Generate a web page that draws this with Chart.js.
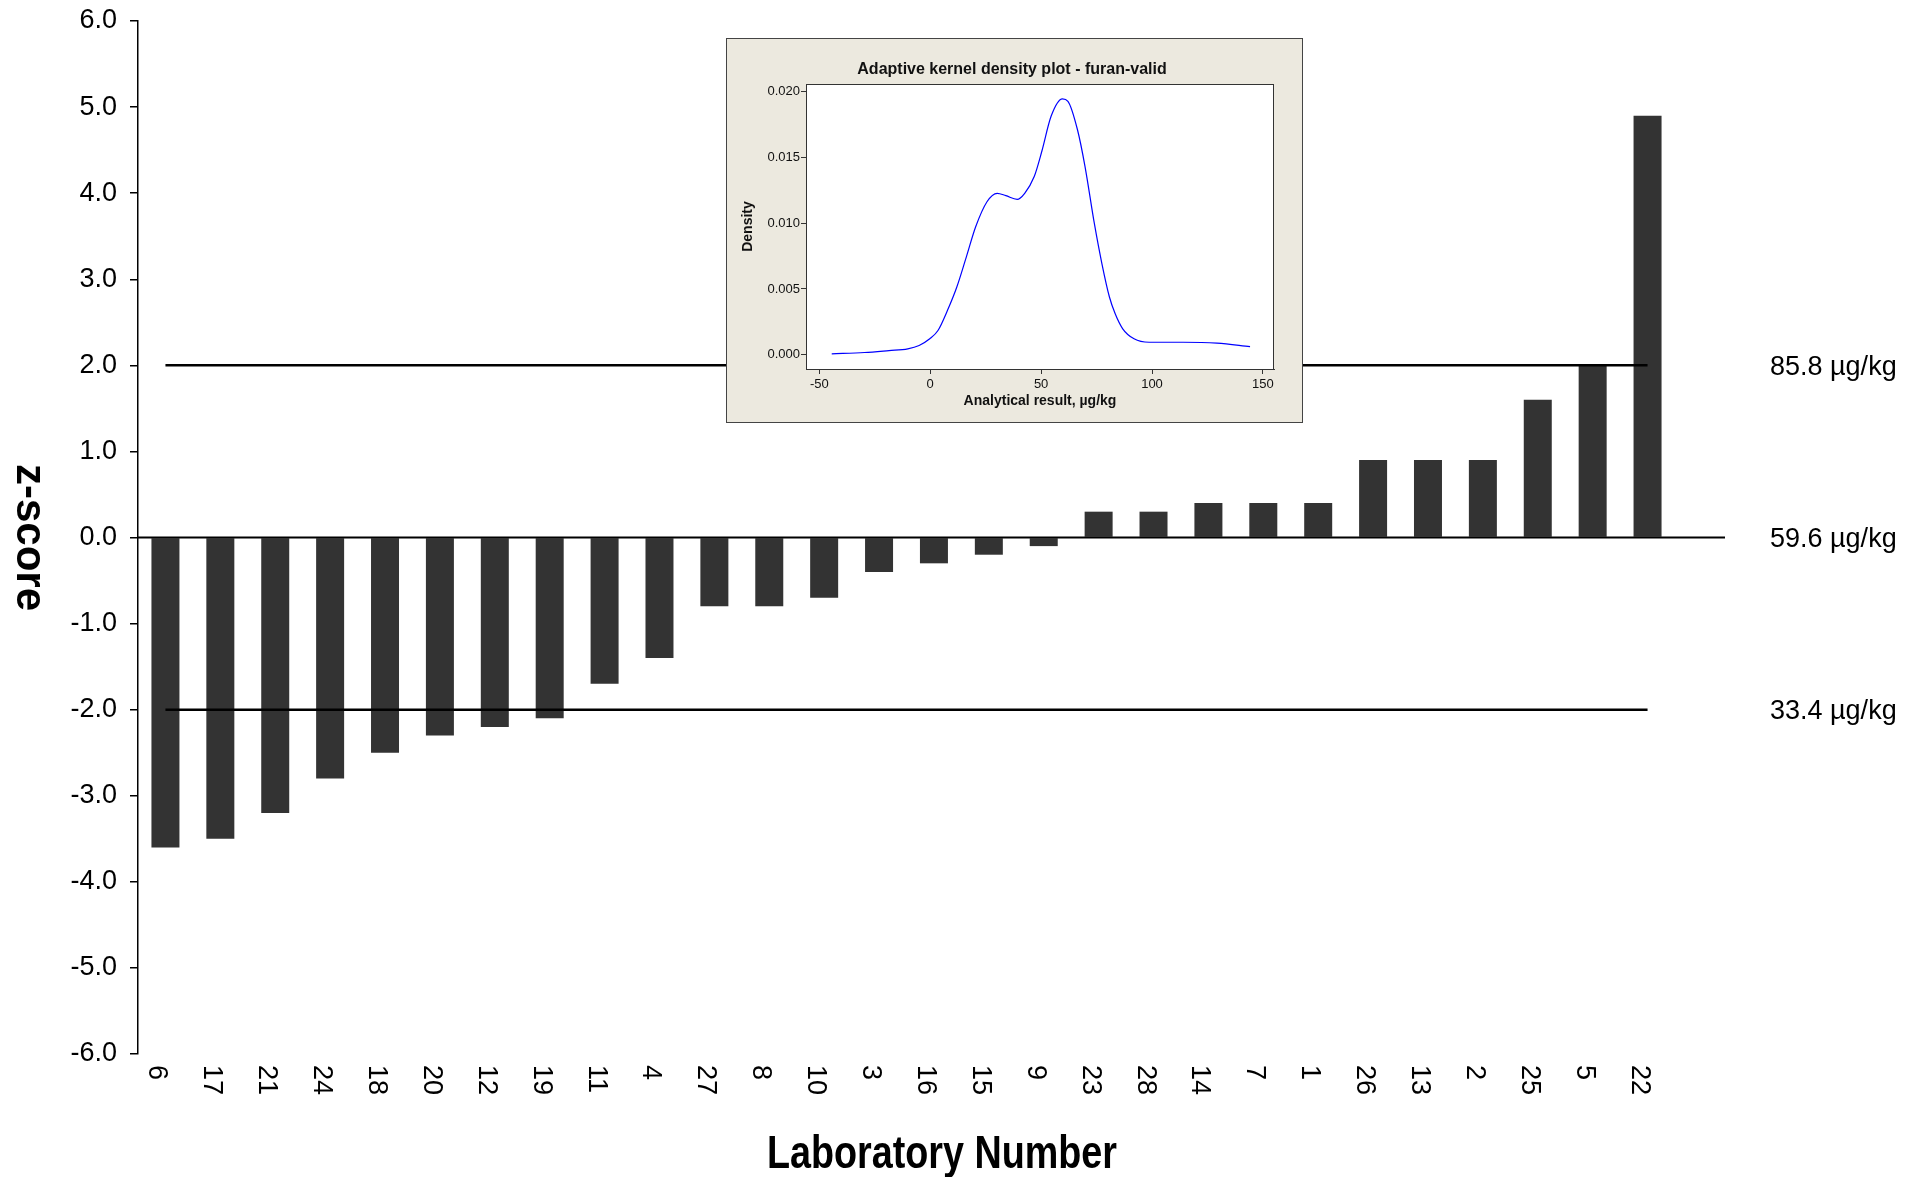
<!DOCTYPE html>
<html><head><meta charset="utf-8">
<script src="https://cdn.jsdelivr.net/npm/chart.js@4.4.1/dist/chart.umd.min.js"></script>
<style>
html,body{margin:0;padding:0;background:#fff;}
#wrap{position:relative;width:1917px;height:1177px;overflow:hidden;}
#main{position:absolute;left:0;top:0;}
#inset{position:absolute;left:726px;top:38px;}
</style></head><body>
<div id="wrap"><canvas id="main" width="1917" height="1177"></canvas><canvas id="inset" width="577" height="385"></canvas></div>
<script>
// ---- main chart data ----
const labs = ['6','17','21','24','18','20','12','19','11','4','27','8','10','3','16','15','9','23','28','14','7','1','26','13','2','25','5','22'];
const zScores = [-3.6,-3.5,-3.2,-2.8,-2.5,-2.3,-2.2,-2.1,-1.7,-1.4,-0.8,-0.8,-0.7,-0.4,-0.3,-0.2,-0.1,0.3,0.3,0.4,0.4,0.4,0.9,0.9,0.9,1.6,2.0,4.9];
const upperLimit = 2;
const lowerLimit = -2;
const limitLevels = [2, 0, -2];
const limitLabels = ['85.8 µg/kg', '59.6 µg/kg', '33.4 µg/kg'];
const yTitle = 'z-score';
const xTitle = 'Laboratory Number';

// ---- inset data ----
const insetTitle = 'Adaptive kernel density plot - furan-valid';
const insetXTitle = 'Analytical result, µg/kg';
const insetYTitle = 'Density';
const insetXTicks = [-50, 0, 50, 100, 150];
const insetYTicks = [0, 0.005, 0.010, 0.015, 0.020];
const densX = [-44.4,-29.6,-18.6,-10.1,-5.0,-0.2,3.5,7.8,12.0,16.3,20.5,25.6,30.2,34.1,39.2,42.6,46.9,50.3,54.5,59.6,62.1,66.4,69.8,74.0,77.4,80.8,83.4,86.8,91.9,98.7,114.0,129.3,144.2];
const densY = [0.00008,0.00018,0.00033,0.00046,0.00071,0.00122,0.00185,0.00338,0.00515,0.00744,0.00972,0.01162,0.01226,0.01208,0.0118,0.01226,0.01353,0.01543,0.0181,0.01942,0.01924,0.01708,0.01429,0.00997,0.00693,0.00439,0.00312,0.00198,0.00122,0.00096,0.00096,0.00089,0.00063];

const FONT = '"Liberation Sans", Arial, Helvetica, sans-serif';
Chart.defaults.font.family = FONT;

const mainDecor = {
  id: 'mainDecor',
  afterDatasetsDraw(chart) {
    const {ctx, chartArea, scales: {y}} = chart;
    const y0 = y.getPixelForValue(0);
    ctx.save();
    ctx.strokeStyle = '#000';
    ctx.lineWidth = 2;
    ctx.beginPath();
    ctx.moveTo(chartArea.left, y0);
    ctx.lineTo(chartArea.right + 50, y0);
    ctx.stroke();
    ctx.restore();
  },
  afterDraw(chart) {
    const {ctx, chartArea, scales: {x, y}} = chart;
    ctx.save();
    ctx.fillStyle = '#000';
    // x tick labels, rotated clockwise
    ctx.font = '27px ' + FONT;
    ctx.textAlign = 'left';
    ctx.textBaseline = 'alphabetic';
    labs.forEach((lab, i) => {
      const px = x.getPixelForTick(i);
      ctx.save();
      ctx.translate(px - 16, chartArea.bottom + 11);
      ctx.rotate(Math.PI / 2);
      ctx.fillText(lab, 0, 0);
      ctx.restore();
    });
    // y title, rotated clockwise
    ctx.save();
    ctx.font = 'bold 42px ' + FONT;
    ctx.textAlign = 'center';
    ctx.translate(17, (chartArea.top + chartArea.bottom) / 2);
    ctx.rotate(Math.PI / 2);
    ctx.fillText(yTitle, 0, 0);
    ctx.restore();
    // x title (condensed)
    ctx.save();
    ctx.font = 'bold 46px ' + FONT;
    ctx.textAlign = 'center';
    ctx.translate(942, 1168);
    ctx.scale(0.82, 1);
    ctx.fillText(xTitle, 0, 0);
    ctx.restore();
    // right-hand labels
    ctx.font = '27px ' + FONT;
    ctx.textAlign = 'left';
    ctx.textBaseline = 'middle';
    limitLevels.forEach((lv, i) => {
      ctx.fillText(limitLabels[i], chartArea.right + 95, y.getPixelForValue(lv) + 2);
    });
    ctx.restore();
  }
};

new Chart(document.getElementById('main'), {
  type: 'bar',
  data: {
    labels: labs,
    datasets: [
      {type: 'line', data: [{x: labs[0], y: upperLimit}, {x: labs[labs.length - 1], y: upperLimit}],
       borderColor: '#000', borderWidth: 2.5, pointRadius: 0, fill: false, order: 1},
      {type: 'line', data: [{x: labs[0], y: lowerLimit}, {x: labs[labs.length - 1], y: lowerLimit}],
       borderColor: '#000', borderWidth: 2.5, pointRadius: 0, fill: false, order: 1},
      {type: 'bar', data: zScores, backgroundColor: '#333333', borderWidth: 0,
       barPercentage: 0.51, categoryPercentage: 1, order: 2}
    ]
  },
  options: {
    responsive: false, animation: false, devicePixelRatio: 1,
    layout: {padding: {top: 21, right: 242, bottom: 0, left: 0}},
    plugins: {legend: {display: false}, tooltip: {enabled: false}},
    scales: {
      x: {
        type: 'category',
        grid: {display: false}, border: {display: false},
        ticks: {display: false},
        afterFit: s => { s.height = 123; }
      },
      y: {
        min: -6, max: 6,
        ticks: {stepSize: 1, callback: v => Number(v).toFixed(1), color: '#000',
                font: {size: 27, lineHeight: 0.5}, padding: 13},
        grid: {drawOnChartArea: false, tickLength: 8, color: '#000', lineWidth: 1.5},
        border: {color: '#000', width: 1.5},
        afterFit: s => { s.width = 138; }
      }
    }
  },
  plugins: [mainDecor]
});

const insetDecor = {
  id: 'insetDecor',
  beforeDraw(chart) {
    const {ctx, chartArea, width, height} = chart;
    ctx.save();
    ctx.fillStyle = '#ECE9DF';
    ctx.fillRect(0, 0, width, height);
    ctx.strokeStyle = '#444';
    ctx.lineWidth = 1;
    ctx.strokeRect(0.5, 0.5, width - 1, height - 1);
    ctx.fillStyle = '#fff';
    ctx.fillRect(chartArea.left, chartArea.top, chartArea.right - chartArea.left, chartArea.bottom - chartArea.top);
    ctx.restore();
  },
  afterDraw(chart) {
    const {ctx, chartArea} = chart;
    ctx.save();
    ctx.strokeStyle = '#333';
    ctx.lineWidth = 1;
    ctx.strokeRect(chartArea.left + 0.5, chartArea.top + 0.5, chartArea.right - chartArea.left - 1, chartArea.bottom - chartArea.top);
    ctx.fillStyle = '#111';
    ctx.font = 'bold 16px ' + FONT;
    ctx.textAlign = 'center';
    ctx.textBaseline = 'alphabetic';
    ctx.fillText(insetTitle, 286, 36);
    ctx.restore();
  }
};

new Chart(document.getElementById('inset'), {
  type: 'line',
  data: {datasets: [{
    data: densX.map((v, i) => ({x: v, y: densY[i]})),
    borderColor: '#0000ff', borderWidth: 1.2, pointRadius: 0,
    cubicInterpolationMode: 'monotone', fill: false
  }]},
  options: {
    responsive: false, animation: false, devicePixelRatio: 1,
    layout: {padding: {top: 46, right: 29, left: 0, bottom: 0}},
    plugins: {legend: {display: false}, tooltip: {enabled: false}},
    scales: {
      x: {
        type: 'linear', min: -56, max: 155,
        afterBuildTicks: s => { s.ticks = insetXTicks.map(v => ({value: v})); },
        afterFit: s => { s.height = 54; },
        ticks: {font: {size: 13}, color: '#111', padding: 3, maxRotation: 0, callback: v => String(v)},
        grid: {drawOnChartArea: false, tickLength: 5, color: '#333'},
        border: {color: '#333'},
        title: {display: true, text: insetXTitle, color: '#111',
                font: {size: 14, weight: 'bold'}, padding: {top: 0, bottom: 13}}
      },
      y: {
        type: 'linear', min: -0.00107, max: 0.02055,
        afterBuildTicks: s => { s.ticks = insetYTicks.map(v => ({value: v})); },
        afterFit: s => { s.width = 80; },
        ticks: {font: {size: 13}, color: '#111', padding: 1, callback: v => Number(v).toFixed(3)},
        grid: {drawOnChartArea: false, tickLength: 5, color: '#333'},
        border: {color: '#333'},
        title: {display: true, text: insetYTitle, color: '#111',
                font: {size: 14, weight: 'bold'}, padding: {top: 14, bottom: 0}}
      }
    }
  },
  plugins: [insetDecor]
});
</script>
</body></html>
